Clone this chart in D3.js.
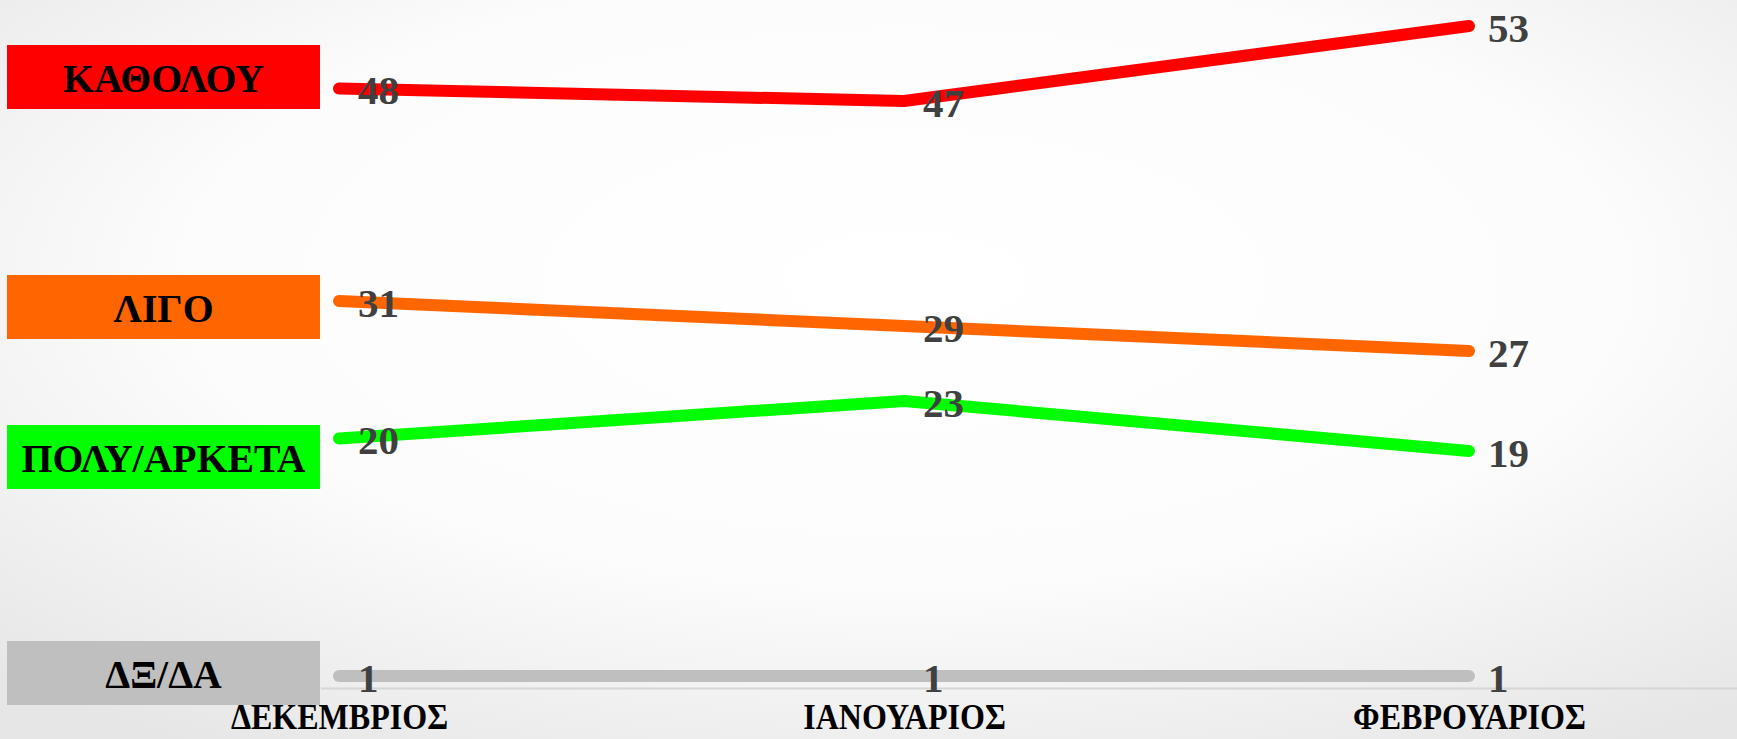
<!DOCTYPE html>
<html>
<head>
<meta charset="utf-8">
<script src="https://cdn.jsdelivr.net/npm/d3@7/dist/d3.min.js"></script>
<style>
  html, body { margin: 0; padding: 0; overflow: hidden; }
  svg { display: block; }
</style>
</head>
<body>
<svg id="chart" width="1737" height="739"></svg>
<script>
// ---- data ----
const months = ["ΔΕΚΕΜΒΡΙΟΣ", "ΙΑΝΟΥΑΡΙΟΣ", "ΦΕΒΡΟΥΑΡΙΟΣ"];
const seriesNames = ["ΚΑΘΟΛΟΥ", "ΛΙΓΟ", "ΠΟΛΥ/ΑΡΚΕΤΑ", "ΔΞ/ΔΑ"];
const katholou = [48, 47, 53];
const ligo = [31, 29, 27];
const polyArketa = [20, 23, 19];
const dxDa = [1, 1, 1];
const seriesColors = ["#ff0000", "#ff6600", "#00ff00", "#bfbfbf"];

// ---- layout ----
const W = 1737, H = 739;
const boxLayout = { x: 7, w: 313, h: 64, tops: [45, 275, 425, 641] };
const squeezeAxis = 0.89;   // horizontal condensing of the month captions
const squeezeBox = 0.97;    // horizontal condensing of the legend captions
const font = "'Liberation Serif', 'Times New Roman', serif";

const seriesValues = [katholou, ligo, polyArketa, dxDa];
const series = seriesNames.map((name, i) => ({ name, color: seriesColors[i], values: seriesValues[i] }));

const svg = d3.select("#chart");

// background
const defs = svg.append("defs");
const rg = defs.append("radialGradient").attr("id", "bg")
  .attr("cx", "52%").attr("cy", "38%").attr("r", "75%");
rg.append("stop").attr("offset", "0%").attr("stop-color", "#ffffff");
rg.append("stop").attr("offset", "55%").attr("stop-color", "#fcfcfc");
rg.append("stop").attr("offset", "100%").attr("stop-color", "#e6e6e6");
svg.append("rect").attr("width", W).attr("height", H).attr("fill", "url(#bg)");

const x = d3.scalePoint().domain(months).range([339, 1469]);
const y = d3.scaleLinear().domain([0, 55]).range([688.5, 1]);

// baseline line
svg.append("line")
  .attr("x1", 321).attr("x2", W)
  .attr("y1", y(0)).attr("y2", y(0))
  .attr("stroke", "#d6d6d6").attr("stroke-width", 2);

// x axis labels
const xAxis = svg.append("g")
  .attr("transform", `translate(0,${y(0)})`)
  .call(d3.axisBottom(x).tickSize(0).tickPadding(15));
xAxis.select(".domain").remove();
xAxis.selectAll("text")
  .attr("font-family", font)
  .attr("font-weight", "bold")
  .attr("font-size", 36)
  .attr("fill", "#000")
  .attr("transform", `scale(${squeezeAxis},1)`);

// lines
const line = d3.line()
  .x((d, i) => x(months[i]))
  .y(d => y(d));

svg.append("g").selectAll("path")
  .data(series)
  .join("path")
  .attr("d", d => line(d.values))
  .attr("fill", "none")
  .attr("stroke", d => d.color)
  .attr("stroke-width", 12)
  .attr("stroke-linecap", "round")
  .attr("stroke-linejoin", "round");

// value labels
const labels = svg.append("g");
series.forEach(s => {
  labels.selectAll(null)
    .data(s.values)
    .join("text")
    .attr("x", (d, i) => x(months[i]) + 19)
    .attr("y", d => y(d) + 15.5)
    .attr("font-family", font)
    .attr("font-weight", "bold")
    .attr("font-size", 41)
    .attr("fill", "#404040")
    .text(d => d);
});

// legend boxes
const boxes = svg.append("g").selectAll("g")
  .data(series)
  .join("g")
  .attr("transform", (d, i) => `translate(${boxLayout.x},${boxLayout.tops[i]})`);
boxes.append("rect")
  .attr("width", boxLayout.w).attr("height", boxLayout.h)
  .attr("fill", d => d.color);
boxes.append("g")
  .attr("transform", `translate(${boxLayout.w / 2},${boxLayout.h / 2 + 15}) scale(${squeezeBox},1)`)
  .append("text")
  .attr("text-anchor", "middle")
  .attr("font-family", font)
  .attr("font-weight", "bold")
  .attr("font-size", 41)
  .attr("fill", "#000")
  .text(d => d.name);
</script>
</body>
</html>
